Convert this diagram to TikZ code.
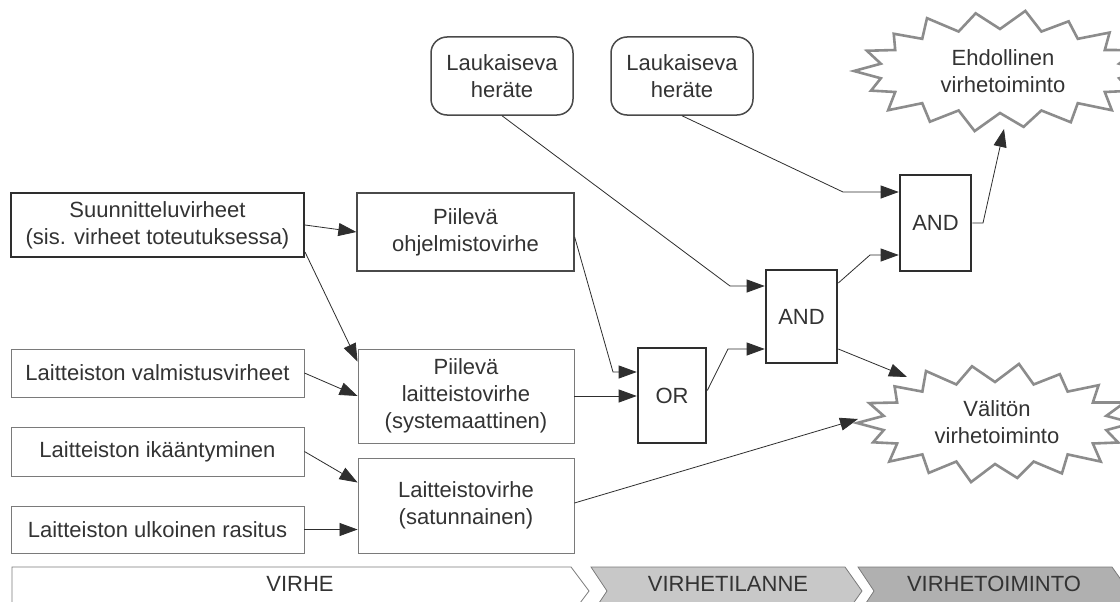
\documentclass[tikz,border=0pt]{standalone}
\usepackage{fontspec}
\setmainfont{Liberation Sans}
\usetikzlibrary{arrows.meta,calc}
\definecolor{txt}{HTML}{333333}
\definecolor{thinedge}{HTML}{7A7A7A}
\definecolor{midedge}{HTML}{4A4A4A}
\definecolor{darkedge}{HTML}{2E2E2E}
\definecolor{burstc}{HTML}{8C8C8C}
\definecolor{bandA}{HTML}{C8C8C8}
\definecolor{bandB}{HTML}{B0B0B0}
\newcommand\myburst[5]{%
  \draw[burst] ($(#1)+(0:{#2} and {#3})$)
  \foreach \k/\j in {0/0.95,1/1.00,2/0.97,3/0.93,4/1.00,5/0.96,6/1.00,7/0.94,8/1.00,9/0.97,10/0.95,11/1.00,12/0.96,13/1.00,14/0.94,15/0.98,16/1.00,17/1.00}
  { -- ($(#1)+({\k*20+10}:{#4} and {#5})$) -- ($(#1)+({\k*20+20}:{#2*\j} and {#3*\j})$) } -- cycle;
}
\tikzset{
  every node/.style={font=\fontsize{22}{27}\selectfont, text=txt, align=center, inner sep=0pt},
  thinbox/.style={draw=thinedge, line width=0.9pt, fill=white},
  midbox/.style={draw=midedge, line width=1.3pt, fill=white},
  boldbox/.style={draw=darkedge, line width=2pt, fill=white},
  gate/.style={draw=darkedge, line width=2.6pt, fill=white, minimum width=70pt},
  trig/.style={draw=midedge, line width=1.5pt, rounded corners=16pt, fill=white, minimum width=142pt, minimum height=78pt},
  burst/.style={draw=burstc, line width=2.6pt, fill=white, line join=miter},
  arr/.style={draw=darkedge, line width=0.8pt, -{Triangle[length=18pt,width=13pt]}},
  bandline/.style={draw=thinedge, line width=0.8pt},
}
\begin{document}
\begin{tikzpicture}[x=1pt,y=-1pt]
\useasboundingbox (0,0) rectangle (1120,602);
\clip (0,0) rectangle (1120,602);
\fill[white] (0,0) rectangle (1120,602);

% bursts
\coordinate (ec) at (1000,71);
\coordinate (vc) at (995,423);
\myburst{ec}{146}{61}{121}{42}
\myburst{vc}{138}{60}{113}{41}
\coordinate (ehd-in) at (1004,129);
\coordinate (val-in1) at (907,377);
\coordinate (val-in2) at (858,419);
\node (ehd) at (1003,71) {Ehdollinen\\virhetoiminto};
\node (val) at (997,422) {Välitön\\virhetoiminto};

% boxes
\node[boldbox, minimum width=293pt, minimum height=64pt] (suun) at (157.5,225) {Suunnitteluvirheet\\(sis. virheet toteutuksessa)};
\node[midbox, minimum width=217pt, minimum height=78pt] (pohj) at (465.5,232) {Piilevä\\ohjelmistovirhe};
\node[thinbox, minimum width=293pt, minimum height=48pt] (valm) at (157.5,373) {Laitteiston valmistusvirheet};
\node[thinbox, minimum width=216pt, minimum height=94pt] (plait) at (466,396) {Piilevä\\laitteistovirhe\\(systemaattinen)};
\node[thinbox, minimum width=293pt, minimum height=49pt] (ika) at (157.5,451.5) {Laitteiston ikääntyminen};
\node[thinbox, minimum width=293pt, minimum height=47pt] (ulk) at (157.5,529.5) {Laitteiston ulkoinen rasitus};
\node[thinbox, minimum width=216pt, minimum height=95pt] (lsat) at (466,505.5) {Laitteistovirhe\\(satunnainen)};

% gates
\node[gate, minimum width=68pt, minimum height=95pt] (or) at (672,395.5) {OR};
\node[gate, minimum width=71pt, minimum height=93pt] (and1) at (801.5,316.5) {AND};
\node[gate, minimum width=71pt, minimum height=96pt] (and2) at (935.5,223) {AND};

% triggers
\node[trig] (l1) at (502,76) {Laukaiseva\\heräte};
\node[trig] (l2) at (682,76) {Laukaiseva\\heräte};

% connectors
\draw[arr] (suun.east) -- (pohj.west);
\draw[arr] ([yshift=6pt]suun.south east) -- ([yshift=-13pt]plait.north west);
\draw[arr] (valm.east) -- (plait.west);
\draw[arr] (ika.east) -- ([yshift=23pt]lsat.west);
\draw[arr] (ulk.east) -- (ulk.east -| lsat.west);
\draw[arr] ([yshift=-5pt]pohj.east) -- (613,372) -- ([yshift=23.5pt]or.west);
\draw[arr] (plait.east) -- (plait.east -| or.west);
\draw[arr] ([yshift=5pt]or.east) -- (728,349) -- ([yshift=-32.5pt]and1.west);
\draw[arr] (l1.south) -- (730,286) -- ([yshift=30.5pt]and1.west);
\draw[arr] (l2.south) -- (843,192) -- ([yshift=31pt]and2.west);
\draw[arr] ([yshift=33.5pt]and1.east) -- (870,255) -- ([yshift=-32pt]and2.west);
\draw[arr] (and2.east) -- (983,223) -- (ehd-in);
\draw[arr] ([yshift=-32.5pt]and1.east) -- (val-in1);
\draw[arr] ([yshift=2.5pt]lsat.east) -- (val-in2);

% phase band
\draw[bandline, fill=white] (12,567) -- (571,567) -- (589,591) -- (571,615) -- (12,615) -- cycle;
\draw[bandline, fill=bandA] (591,567) -- (845,567) -- (862,591) -- (845,615) -- (591,615) -- (607,591) -- cycle;
\draw[bandline, fill=bandB] (858,567) -- (1112,567) -- (1129,591) -- (1112,615) -- (858,615) -- (874,591) -- cycle;
\node (b1) at (300,584) {VIRHE};
\node (b2) at (728,584) {VIRHETILANNE};
\node (b3) at (994,584) {VIRHETOIMINTO};
\end{tikzpicture}
\end{document}
